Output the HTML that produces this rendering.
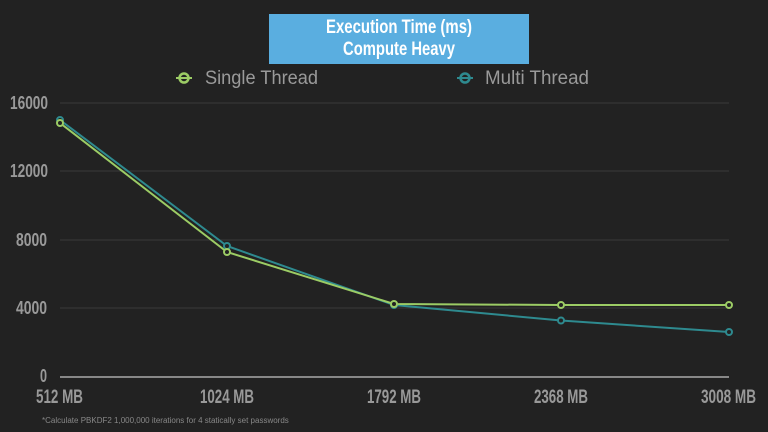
<!DOCTYPE html>
<html><head><meta charset="utf-8"><style>
html,body{margin:0;padding:0;background:#222222;}
svg{display:block;}
text{font-family:"Liberation Sans",sans-serif;}
</style></head><body>
<svg width="768" height="432" viewBox="0 0 768 432">
<rect width="768" height="432" fill="#222222"/>
<rect x="269" y="14" width="260" height="50" fill="#5aaee0"/>
<text x="326" y="33" fill="#fff" font-size="19" font-weight="bold" textLength="146" lengthAdjust="spacingAndGlyphs">Execution Time (ms)</text>
<text x="343" y="55" fill="#fff" font-size="19" font-weight="bold" textLength="112" lengthAdjust="spacingAndGlyphs">Compute Heavy</text>
<circle cx="184" cy="78" r="4.5" fill="none" stroke="#9ccc65" stroke-width="2.5"/>
<line x1="176" y1="78" x2="192" y2="78" stroke="#9ccc65" stroke-width="2"/>
<text x="205" y="84" fill="#9a9a9a" font-size="19" textLength="113" lengthAdjust="spacingAndGlyphs">Single Thread</text>
<circle cx="465" cy="78" r="4.5" fill="none" stroke="#2e8a8f" stroke-width="2.5"/>
<line x1="457" y1="78" x2="473" y2="78" stroke="#2e8a8f" stroke-width="2"/>
<text x="485" y="84" fill="#9a9a9a" font-size="19" textLength="104" lengthAdjust="spacingAndGlyphs">Multi Thread</text>
<g stroke="#3a3a3a" stroke-width="1">
<line x1="60" y1="103" x2="729" y2="103"/>
<line x1="60" y1="171" x2="729" y2="171"/>
<line x1="60" y1="240" x2="729" y2="240"/>
<line x1="60" y1="308" x2="729" y2="308"/>
</g>
<line x1="60" y1="377" x2="729" y2="377" stroke="#888" stroke-width="2"/>
<g fill="#999" font-size="18" font-weight="bold">
<text x="10" y="109" textLength="38" lengthAdjust="spacingAndGlyphs">16000</text>
<text x="10" y="177" textLength="38" lengthAdjust="spacingAndGlyphs">12000</text>
<text x="16" y="246" textLength="31" lengthAdjust="spacingAndGlyphs">8000</text>
<text x="16" y="314" textLength="31" lengthAdjust="spacingAndGlyphs">4000</text>
<text x="40" y="382" textLength="7" lengthAdjust="spacingAndGlyphs">0</text>
</g>
<g fill="#999" font-size="19" font-weight="bold">
<text x="36" y="403" textLength="47" lengthAdjust="spacingAndGlyphs">512 MB</text>
<text x="200" y="403" textLength="54" lengthAdjust="spacingAndGlyphs">1024 MB</text>
<text x="367" y="403" textLength="54" lengthAdjust="spacingAndGlyphs">1792 MB</text>
<text x="534" y="403" textLength="54" lengthAdjust="spacingAndGlyphs">2368 MB</text>
<text x="701" y="403" textLength="55" lengthAdjust="spacingAndGlyphs">3008 MB</text>
</g>
<text x="42" y="423" fill="#888" font-size="8">*Calculate PBKDF2 1,000,000 iterations for 4 statically set passwords</text>
<polyline points="60,120 227,246 394,305 561,320.5 729,332" fill="none" stroke="#2e8a8f" stroke-width="2"/>
<polyline points="60,123 227,252 394,304 561,305 729,305" fill="none" stroke="#9ccc65" stroke-width="2"/>
<g fill="#222" stroke="#2e8a8f" stroke-width="2">
<circle cx="60" cy="120" r="3"/><circle cx="227" cy="246" r="3"/><circle cx="394" cy="305" r="3"/><circle cx="561" cy="320.5" r="3"/><circle cx="729" cy="332" r="3"/>
</g>
<g fill="#222" stroke="#9ccc65" stroke-width="2">
<circle cx="60" cy="123" r="3"/><circle cx="227" cy="252" r="3"/><circle cx="394" cy="304" r="3"/><circle cx="561" cy="305" r="3"/><circle cx="729" cy="305" r="3"/>
</g>
</svg>
</body></html>
